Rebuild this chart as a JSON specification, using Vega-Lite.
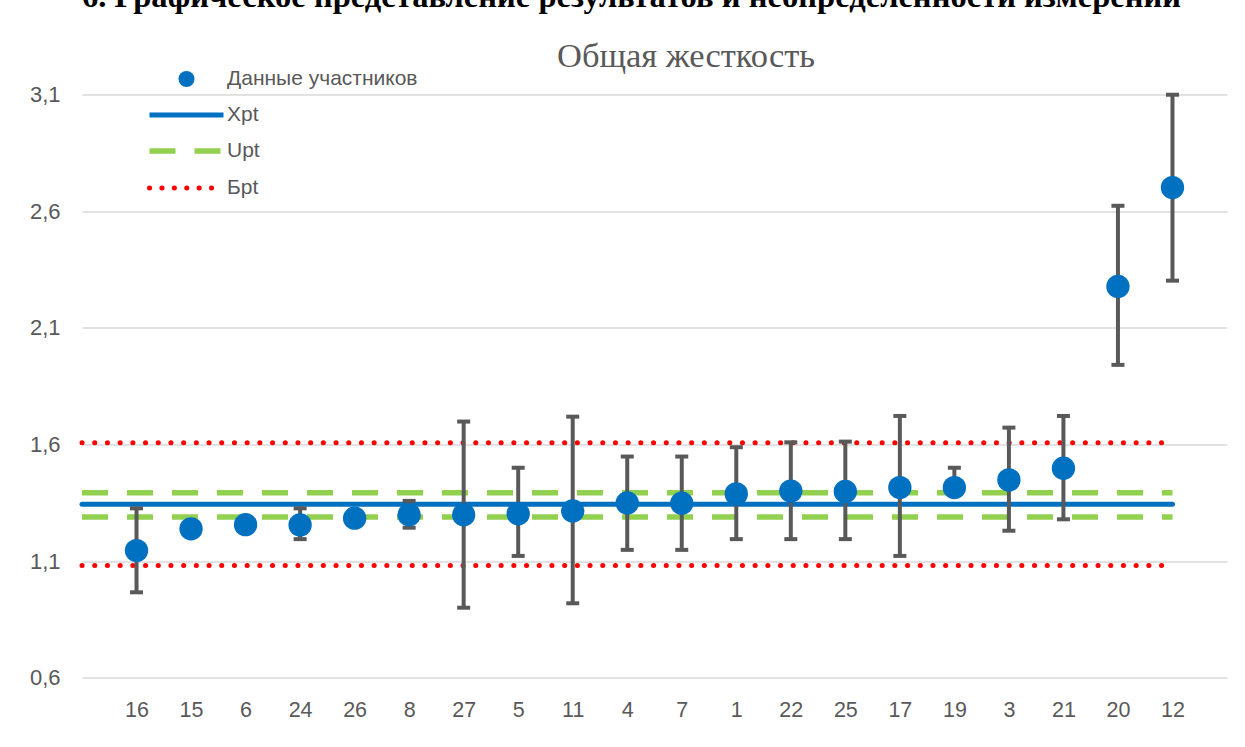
{
  "$schema": "https://vega.github.io/schema/vega-lite/v6.json",
  "autosize": {"type": "none"},
  "padding": {"left": 82, "top": 94.5, "right": 18, "bottom": 69.3},
  "width": 1145,
  "height": 583.2,
  "background": "white",
  "title": {
    "text": "Общая жесткость",
    "font": "Liberation Serif",
    "fontSize": 34.5,
    "fontWeight": "normal",
    "color": "#595959",
    "anchor": "middle",
    "frame": "group",
    "baseline": "alphabetic",
    "dx": 31.5,
    "offset": -121
  },
  "datasets": {
    "participants": [
      {"id": "16", "series": "Данные участников", "v": 1.145, "lo": 0.966, "hi": 1.326},
      {"id": "15", "series": "Данные участников", "v": 1.238, "lo": null, "hi": null},
      {"id": "6", "series": "Данные участников", "v": 1.256, "lo": null, "hi": null},
      {"id": "24", "series": "Данные участников", "v": 1.255, "lo": 1.194, "hi": 1.326},
      {"id": "26", "series": "Данные участников", "v": 1.284, "lo": null, "hi": null},
      {"id": "8", "series": "Данные участников", "v": 1.298, "lo": 1.243, "hi": 1.358},
      {"id": "27", "series": "Данные участников", "v": 1.298, "lo": 0.9, "hi": 1.698},
      {"id": "5", "series": "Данные участников", "v": 1.303, "lo": 1.122, "hi": 1.5},
      {"id": "11", "series": "Данные участников", "v": 1.315, "lo": 0.919, "hi": 1.719},
      {"id": "4", "series": "Данные участников", "v": 1.349, "lo": 1.148, "hi": 1.548},
      {"id": "7", "series": "Данные участников", "v": 1.348, "lo": 1.148, "hi": 1.548},
      {"id": "1", "series": "Данные участников", "v": 1.388, "lo": 1.194, "hi": 1.588},
      {"id": "22", "series": "Данные участников", "v": 1.4, "lo": 1.194, "hi": 1.609},
      {"id": "25", "series": "Данные участников", "v": 1.398, "lo": 1.194, "hi": 1.612},
      {"id": "17", "series": "Данные участников", "v": 1.415, "lo": 1.122, "hi": 1.722},
      {"id": "19", "series": "Данные участников", "v": 1.415, "lo": 1.415, "hi": 1.5},
      {"id": "3", "series": "Данные участников", "v": 1.448, "lo": 1.23, "hi": 1.672},
      {"id": "21", "series": "Данные участников", "v": 1.498, "lo": 1.279, "hi": 1.722},
      {"id": "20", "series": "Данные участников", "v": 2.277, "lo": 1.941, "hi": 2.623},
      {"id": "12", "series": "Данные участников", "v": 2.701, "lo": 2.302, "hi": 3.099}
    ],
    "limits": [
      {"series": "Xpt", "y": 1.344},
      {"series": "Upt", "y": 1.393},
      {"series": "Upt", "y": 1.289},
      {"series": "Бpt", "y": 1.607},
      {"series": "Бpt", "y": 1.081}
    ]
  },
  "config": {
    "view": {"stroke": null},
    "axis": {
      "labelFont": "Liberation Sans",
      "labelColor": "#595959",
      "domain": false,
      "ticks": false
    }
  },
  "layer": [
    {
      "data": {"name": "limits"},
      "transform": [{"filter": "datum.series === 'Upt'"}],
      "mark": {"type": "rule", "strokeWidth": 5.5, "strokeDash": [26, 19], "strokeCap": "butt"},
      "encoding": {
        "x": {"datum": " ", "type": "ordinal"},
        "x2": {"datum": "12"},
        "y": {"field": "y", "type": "quantitative"},
        "color": {"field": "series", "type": "nominal"}
      }
    },
    {
      "data": {"name": "limits"},
      "transform": [{"filter": "datum.series === 'Бpt'"}],
      "mark": {"type": "rule", "strokeWidth": 5, "strokeDash": [0.1, 12.6], "strokeCap": "round"},
      "encoding": {
        "x": {"datum": " ", "type": "ordinal"},
        "x2": {"datum": "12"},
        "y": {"field": "y", "type": "quantitative"},
        "color": {"field": "series", "type": "nominal"}
      }
    },
    {
      "data": {"name": "limits"},
      "transform": [{"filter": "datum.series === 'Xpt'"}],
      "mark": {"type": "rule", "strokeWidth": 5, "strokeCap": "round"},
      "encoding": {
        "x": {"datum": " ", "type": "ordinal"},
        "x2": {"datum": "12"},
        "y": {"field": "y", "type": "quantitative"},
        "color": {"field": "series", "type": "nominal"}
      }
    },
    {
      "data": {"name": "participants"},
      "mark": {"type": "rule", "strokeWidth": 4, "color": "#595959"},
      "encoding": {
        "x": {"field": "id", "type": "ordinal"},
        "y": {"field": "lo", "type": "quantitative"},
        "y2": {"field": "hi"}
      }
    },
    {
      "data": {"name": "participants"},
      "mark": {"type": "tick", "orient": "horizontal", "size": 13, "thickness": 4, "color": "#595959", "opacity": 1},
      "encoding": {
        "x": {"field": "id", "type": "ordinal"},
        "y": {"field": "lo", "type": "quantitative"}
      }
    },
    {
      "data": {"name": "participants"},
      "mark": {"type": "tick", "orient": "horizontal", "size": 13, "thickness": 4, "color": "#595959", "opacity": 1},
      "encoding": {
        "x": {"field": "id", "type": "ordinal"},
        "y": {"field": "hi", "type": "quantitative"}
      }
    },
    {
      "data": {"name": "participants"},
      "mark": {"type": "point", "filled": true, "shape": "circle", "size": 545, "opacity": 1},
      "encoding": {
        "x": {"field": "id", "type": "ordinal"},
        "y": {"field": "v", "type": "quantitative"},
        "color": {"field": "series", "type": "nominal"}
      }
    }
  ],
  "resolve": {"scale": {"x": "shared", "y": "shared", "color": "shared"}},
  "encoding": {
    "x": {
      "type": "ordinal",
      "scale": {
        "type": "point",
        "domain": [" ", "16", "15", "6", "24", "26", "8", "27", "5", "11", "4", "7", "1", "22", "25", "17", "19", "3", "21", "20", "12"],
        "padding": 0.5,
        "align": 0
      },
      "axis": {
        "title": null,
        "grid": false,
        "labelAngle": 0,
        "labelFontSize": 21.5,
        "labelPadding": 22
      }
    },
    "y": {
      "type": "quantitative",
      "scale": {"domain": [0.6, 3.1], "nice": false, "zero": false},
      "axis": {
        "title": "6. Графическое представление результатов и неопределенности измерений",
        "titleAngle": 0,
        "titleX": 549,
        "titleY": -88.5,
        "titleAlign": "center",
        "titleBaseline": "alphabetic",
        "titleFont": "Liberation Serif",
        "titleFontWeight": "bold",
        "titleFontSize": 32.6,
        "titleColor": "#000000",
        "titleLimit": 2000,
        "values": [0.6, 1.1, 1.6, 2.1, 2.6, 3.1],
        "labelExpr": "replace(format(datum.value, '.1f'), '.', ',')",
        "labelFontSize": 22,
        "labelPadding": 22,
        "grid": true,
        "gridColor": "#d9d9d9",
        "gridWidth": 1.5
      }
    },
    "color": {
      "type": "nominal",
      "scale": {
        "domain": ["Данные участников", "Xpt", "Upt", "Бpt"],
        "range": ["#0070C0", "#0070C0", "#92D050", "#FF0000"]
      },
      "legend": {
        "title": null,
        "orient": "none",
        "legendX": 94,
        "legendY": -26,
        "padding": 0,
        "symbolSize": 256,
        "labelFont": "Liberation Sans",
        "labelFontSize": 21,
        "labelLimit": 500,
        "labelColor": "#595959",
        "labelOffset": 30,
        "rowPadding": 14,
        "encode": {
          "symbols": {
            "update": {
              "shape": {"signal": "datum.value === 'Данные участников' ? 'circle' : 'stroke'"},
              "size": {"signal": "datum.value === 'Данные участников' ? 256 : 5476"},
              "strokeWidth": {"signal": "datum.value === 'Данные участников' ? 0 : (datum.value === 'Upt' ? 5.5 : 5)"},
              "strokeDash": {"signal": "datum.value === 'Upt' ? [26, 19] : (datum.value === 'Бpt' ? [0.1, 12.3] : [1, 0])"},
              "strokeCap": {"signal": "datum.value === 'Бpt' ? 'round' : 'butt'"},
              "fill": {"signal": "datum.value === 'Данные участников' ? '#0070C0' : 'transparent'"},
              "stroke": {"signal": "datum.value === 'Upt' ? '#92D050' : (datum.value === 'Бpt' ? '#FF0000' : '#0070C0')"},
              "opacity": {"value": 1}
            }
          }
        }
      }
    }
  }
}
